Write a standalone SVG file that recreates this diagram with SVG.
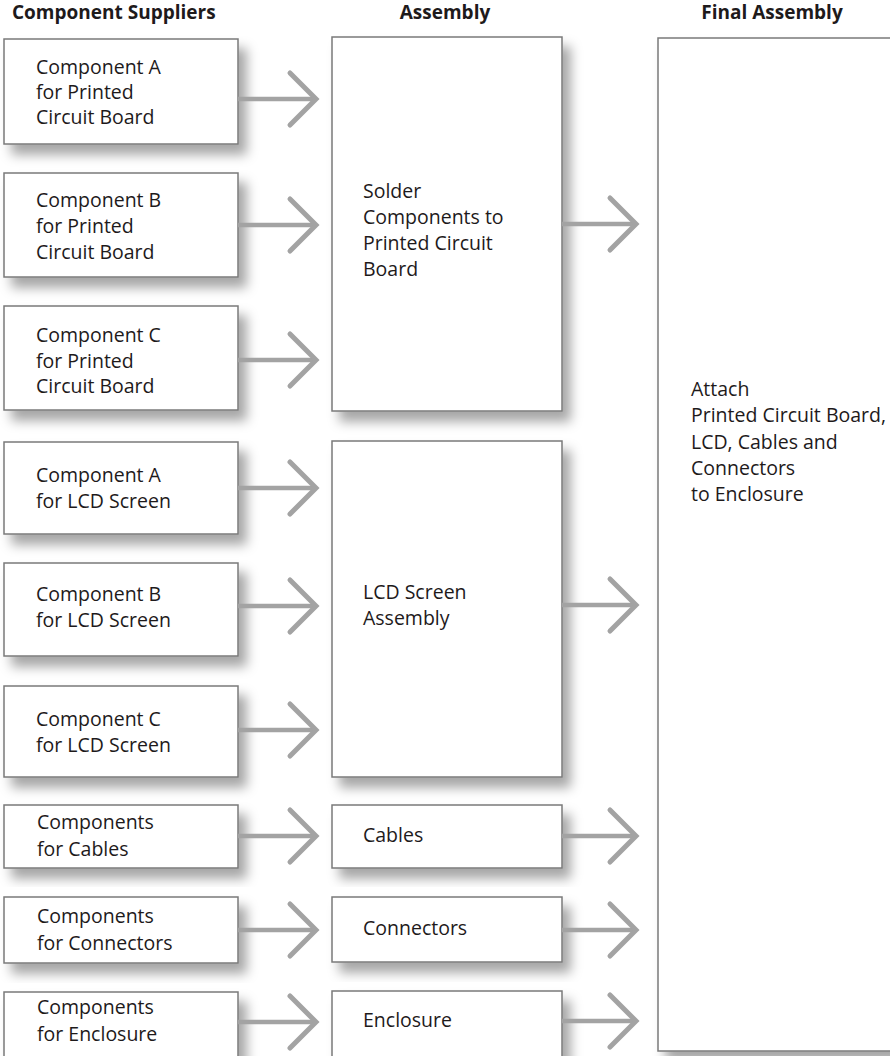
<svg xmlns="http://www.w3.org/2000/svg" width="890" height="1056" viewBox="0 0 890 1056">
<defs>
<filter id="sh" x="-20%" y="-20%" width="150%" height="150%">
<feDropShadow dx="8" dy="10" stdDeviation="6" flood-color="#000" flood-opacity="0.35"/>
</filter>
<style>
.box{fill:#fff;stroke:#7a7a7a;stroke-width:1.5;filter:url(#sh)}
.t{font-family:"Open Sans","Liberation Sans",sans-serif;font-size:19.5px;fill:#1e1a1b}
.h{font-family:"Open Sans","Liberation Sans",sans-serif;font-size:19px;font-weight:bold;fill:#1e1a1b}
.ln{stroke:#a3a3a3;stroke-width:4.5;fill:none}
.hd{stroke:#a3a3a3;stroke-width:5;fill:none;stroke-linecap:round;stroke-linejoin:miter}
</style>
</defs>
<rect width="890" height="1056" fill="#fff"/>
<g id="headers">
<text class="h" x="12" y="19">Component Suppliers</text>
<text class="h" x="445" y="19" text-anchor="middle">Assembly</text>
<text class="h" x="772" y="19" text-anchor="middle">Final Assembly</text>
</g>
<g id="final">
<rect class="box" x="658" y="38" width="240" height="1013"/>
<text class="t"><tspan x="691" y="396">Attach</tspan><tspan x="691" y="422">Printed Circuit Board,</tspan><tspan x="691" y="449">LCD, Cables and</tspan><tspan x="691" y="475">Connectors</tspan><tspan x="691" y="501">to Enclosure</tspan></text>
</g>
<g id="solder">
<rect class="box" x="332" y="37" width="230" height="374"/>
<text class="t"><tspan x="363" y="198">Solder</tspan><tspan x="363" y="224">Components to</tspan><tspan x="363" y="250">Printed Circuit</tspan><tspan x="363" y="276">Board</tspan></text>
</g>
<g id="lcdasm">
<rect class="box" x="332" y="441" width="230" height="336"/>
<text class="t"><tspan x="363" y="599">LCD Screen</tspan><tspan x="363" y="625">Assembly</tspan></text>
</g>
<g id="cables">
<rect class="box" x="332" y="805" width="230" height="63"/>
<text class="t" x="363" y="842">Cables</text>
</g>
<g id="connectors">
<rect class="box" x="332" y="897" width="230" height="65"/>
<text class="t" x="363" y="935">Connectors</text>
</g>
<g id="enclosure">
<rect class="box" x="332" y="991" width="230" height="80"/>
<text class="t" x="363" y="1027">Enclosure</text>
</g>
<g id="compApcb">
<rect class="box" x="4" y="39" width="234" height="105"/>
<text class="t"><tspan x="36" y="74">Component A</tspan><tspan x="36" y="99">for Printed</tspan><tspan x="36" y="124">Circuit Board</tspan></text>
</g>
<g id="compBpcb">
<rect class="box" x="4" y="173" width="234" height="104"/>
<text class="t"><tspan x="36" y="207">Component B</tspan><tspan x="36" y="233">for Printed</tspan><tspan x="36" y="259">Circuit Board</tspan></text>
</g>
<g id="compCpcb">
<rect class="box" x="4" y="306" width="234" height="104"/>
<text class="t"><tspan x="36" y="342">Component C</tspan><tspan x="36" y="368">for Printed</tspan><tspan x="36" y="393">Circuit Board</tspan></text>
</g>
<g id="compAlcd">
<rect class="box" x="4" y="442" width="234" height="92"/>
<text class="t"><tspan x="36" y="482">Component A</tspan><tspan x="36" y="508">for LCD Screen</tspan></text>
</g>
<g id="compBlcd">
<rect class="box" x="4" y="563" width="234" height="93"/>
<text class="t"><tspan x="36" y="601">Component B</tspan><tspan x="36" y="627">for LCD Screen</tspan></text>
</g>
<g id="compClcd">
<rect class="box" x="4" y="686" width="234" height="91"/>
<text class="t"><tspan x="36" y="726">Component C</tspan><tspan x="36" y="752">for LCD Screen</tspan></text>
</g>
<g id="compCables">
<rect class="box" x="4" y="805" width="234" height="63"/>
<text class="t"><tspan x="37" y="829">Components</tspan><tspan x="37" y="856">for Cables</tspan></text>
</g>
<g id="compConn">
<rect class="box" x="4" y="897" width="234" height="66"/>
<text class="t"><tspan x="37" y="923">Components</tspan><tspan x="37" y="950">for Connectors</tspan></text>
</g>
<g id="compEncl">
<rect class="box" x="4" y="992" width="234" height="80"/>
<text class="t"><tspan x="37" y="1014">Components</tspan><tspan x="37" y="1041">for Enclosure</tspan></text>
</g>
<g id="connectors-g">
<g id="a1"><line class="ln" x1="238" y1="99" x2="314" y2="99"/><polyline class="hd" points="290,73 316,99 290,125"/></g>
<g id="a2"><line class="ln" x1="238" y1="225" x2="314" y2="225"/><polyline class="hd" points="290,199 316,225 290,251"/></g>
<g id="a3"><line class="ln" x1="238" y1="360" x2="314" y2="360"/><polyline class="hd" points="290,334 316,360 290,386"/></g>
<g id="a4"><line class="ln" x1="238" y1="488" x2="314" y2="488"/><polyline class="hd" points="290,462 316,488 290,514"/></g>
<g id="a5"><line class="ln" x1="238" y1="606" x2="314" y2="606"/><polyline class="hd" points="290,580 316,606 290,632"/></g>
<g id="a6"><line class="ln" x1="238" y1="730" x2="314" y2="730"/><polyline class="hd" points="290,704 316,730 290,756"/></g>
<g id="a7"><line class="ln" x1="238" y1="836" x2="314" y2="836"/><polyline class="hd" points="290,810 316,836 290,862"/></g>
<g id="a8"><line class="ln" x1="238" y1="930" x2="314" y2="930"/><polyline class="hd" points="290,904 316,930 290,956"/></g>
<g id="a9"><line class="ln" x1="238" y1="1022" x2="314" y2="1022"/><polyline class="hd" points="290,996 316,1022 290,1048"/></g>
<g id="b1"><line class="ln" x1="562" y1="224" x2="634" y2="224"/><polyline class="hd" points="610,198 636,224 610,250"/></g>
<g id="b2"><line class="ln" x1="562" y1="605" x2="634" y2="605"/><polyline class="hd" points="610,579 636,605 610,631"/></g>
<g id="b3"><line class="ln" x1="562" y1="836" x2="634" y2="836"/><polyline class="hd" points="610,810 636,836 610,862"/></g>
<g id="b4"><line class="ln" x1="562" y1="930" x2="634" y2="930"/><polyline class="hd" points="610,904 636,930 610,956"/></g>
<g id="b5"><line class="ln" x1="562" y1="1021" x2="634" y2="1021"/><polyline class="hd" points="610,995 636,1021 610,1047"/></g>
</g>
</svg>
